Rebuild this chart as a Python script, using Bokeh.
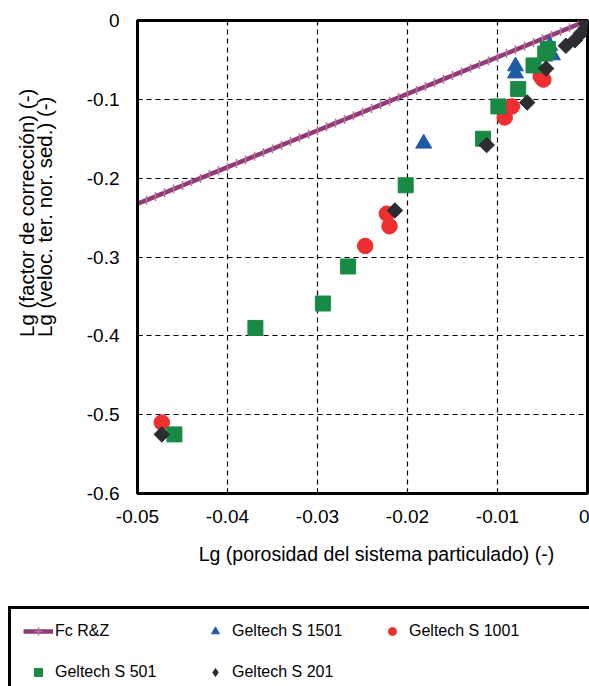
import math
from bokeh.plotting import figure
from bokeh.layouts import column, row
from bokeh.models import FixedTicker, Legend, LegendItem, Label
from bokeh.embed import file_html
from bokeh.resources import INLINE

# ---- data ----
FC_X = [-0.050, -0.049, -0.048, -0.047, -0.046, -0.045, -0.044, -0.043, -0.042, -0.041,
        -0.040, -0.039, -0.038, -0.037, -0.036, -0.035, -0.034, -0.033, -0.032, -0.031,
        -0.030, -0.029, -0.028, -0.027, -0.026, -0.025, -0.024, -0.023, -0.022, -0.021,
        -0.020, -0.019, -0.018, -0.017, -0.016, -0.015, -0.014, -0.013, -0.012, -0.011,
        -0.010, -0.009, -0.008, -0.007, -0.006, -0.005, -0.004, -0.003, -0.002, -0.001, 0.0]
FC_Y = [-0.2325, -0.2279, -0.2232, -0.2186, -0.2139, -0.2093, -0.2046, -0.2000, -0.1953, -0.1907,
        -0.1860, -0.1814, -0.1767, -0.1721, -0.1674, -0.1628, -0.1581, -0.1535, -0.1488, -0.1442,
        -0.1395, -0.1349, -0.1302, -0.1256, -0.1209, -0.1163, -0.1116, -0.1070, -0.1023, -0.0977,
        -0.0930, -0.0884, -0.0837, -0.0791, -0.0744, -0.0698, -0.0651, -0.0605, -0.0558, -0.0512,
        -0.0465, -0.0419, -0.0372, -0.0326, -0.0279, -0.0233, -0.0186, -0.0140, -0.0093, -0.0047, 0.0]

S1501_X = [-0.0182, -0.0080, -0.0080, -0.0042, -0.0039]
S1501_Y = [-0.156, -0.058, -0.067, -0.032, -0.044]

S1001_X = [-0.0473, -0.0247, -0.0223, -0.0220, -0.0092, -0.0084, -0.0052, -0.0049]
S1001_Y = [-0.510, -0.286, -0.245, -0.261, -0.123, -0.109, -0.071, -0.075]

S501_X = [-0.0459, -0.0369, -0.0294, -0.0266, -0.0202, -0.0116, -0.0099, -0.0077, -0.0060, -0.0047, -0.0044]
S501_Y = [-0.525, -0.390, -0.359, -0.312, -0.209, -0.150, -0.109, -0.087, -0.057, -0.042, -0.036]

S201_X = [-0.0473, -0.0214, -0.0112, -0.0067, -0.0046, -0.0024, -0.0014, -0.0007, -0.0002]
S201_Y = [-0.525, -0.241, -0.158, -0.104, -0.061, -0.032, -0.025, -0.016, -0.004]

X_TICKS = [-0.05, -0.04, -0.03, -0.02, -0.01, 0.0]
X_TICK_LABELS = ["-0.05", "-0.04", "-0.03", "-0.02", "-0.01", "0"]
Y_TICKS = [-0.6, -0.5, -0.4, -0.3, -0.2, -0.1, 0.0]
Y_TICK_LABELS = ["-0.6", "-0.5", "-0.4", "-0.3", "-0.2", "-0.1", "0"]

SERIES_NAMES = ["Fc R&Z", "Geltech S 1501", "Geltech S 1001", "Geltech S 501", "Geltech S 201"]
X_LABEL = "Lg (porosidad del sistema particulado) (-)"
Y_LABEL_1 = "Lg (factor de corrección) (-)"
Y_LABEL_2 = "Lg (veloc. ter. nor. sed.) (-)"

FONT = "Liberation Sans"
LINE_COLOR = "#913B75"
TICK_COLOR = "#B7709F"
C_1501 = "#1F5AA6"
C_1001 = "#EE2E2F"
C_501 = "#198A45"
C_201 = "#2B2D30"

# layout sizes (pixels)
W_TOTAL, H_TOTAL = 589, 686
W_YLAB = 60
H_TOP = 535


def bare_figure(w, h, xr, yr):
    f = figure(width=w, height=h, x_range=xr, y_range=yr, output_backend="svg",
               toolbar_location=None, x_axis_location=None, y_axis_location=None,
               min_border=0)
    f.grid.visible = False
    f.outline_line_color = None
    f.background_fill_color = "white"
    f.border_fill_color = "white"
    return f


def add_series(f, legend_proxy=False):
    """Draw every series on figure f; returns the renderers."""
    r_line = f.line(FC_X, FC_Y, line_color=LINE_COLOR, line_width=4.5)
    if legend_proxy:
        r_tick = f.scatter(FC_X, FC_Y, marker="cross", size=12,
                           line_color=TICK_COLOR, line_width=1.5)
    else:
        r_tick = f.scatter(FC_X, FC_Y, marker="dash", angle=math.pi / 2, size=9,
                           line_color=TICK_COLOR, line_width=1.5)
    r_t = f.scatter(S1501_X, S1501_Y, marker="triangle", size=16, fill_color=C_1501, line_color=C_1501)
    r_c = f.scatter(S1001_X, S1001_Y, marker="circle", size=15.5, fill_color=C_1001, line_color=C_1001)
    r_s = f.scatter(S501_X, S501_Y, marker="square", size=15, fill_color=C_501, line_color=C_501)
    if legend_proxy:
        r_d = f.scatter(S201_X, S201_Y, marker="diamond", size=15,
                        fill_color=C_201, line_color=C_201)
    else:
        r_d = f.scatter(S201_X, S201_Y, marker="square", angle=math.pi / 4, size=11,
                        fill_color=C_201, line_color=C_201)
    return r_line, r_tick, r_t, r_c, r_s, r_d


# ---- main plot ----
p = figure(width=W_TOTAL - W_YLAB, height=H_TOP, x_range=(-0.05, 0.0), y_range=(-0.6, 0.0),
           output_backend="svg", toolbar_location=None,
           min_border_left=137 - W_YLAB, min_border_right=2, min_border_top=20,
           min_border_bottom=H_TOP - 493)
p.background_fill_color = "white"
p.border_fill_color = "white"
p.outline_line_color = "black"
p.outline_line_width = 3
p.outline_line_alpha = 1.0

p.xaxis.ticker = FixedTicker(ticks=X_TICKS)
p.yaxis.ticker = FixedTicker(ticks=Y_TICKS)
p.xaxis.major_label_overrides = dict(zip(X_TICKS, X_TICK_LABELS))
p.yaxis.major_label_overrides = dict(zip(Y_TICKS, Y_TICK_LABELS))
for ax in (p.xaxis[0], p.yaxis[0]):
    ax.axis_line_color = "black"
    ax.axis_line_width = 3
    ax.major_tick_in = 5
    ax.major_tick_out = 0
    ax.major_tick_line_color = "black"
    ax.major_tick_line_width = 1
    ax.minor_tick_line_color = None
    ax.major_label_text_font = FONT
    ax.major_label_text_font_size = "19px"
    ax.major_label_text_color = "black"
p.yaxis.major_label_standoff = 18
p.xaxis.major_label_standoff = 16

for g in (p.xgrid[0], p.ygrid[0]):
    g.grid_line_color = "black"
    g.grid_line_dash = "5 4"
    g.grid_line_width = 1.2

add_series(p)

# ---- y-axis title (two lines) ----
ylab = bare_figure(W_YLAB, H_TOP, (0, W_YLAB), (H_TOP, 0))
for xpos, txt in ((26, Y_LABEL_1), (43.5, Y_LABEL_2)):
    ylab.add_layout(Label(x=xpos, y=358, text=txt, angle=math.pi / 2,
                          text_align="left", text_baseline="middle",
                          text_font=FONT, text_font_size="20.5px", text_color="black"))

# ---- x-axis title and legend ----
bot = bare_figure(W_TOTAL, H_TOTAL - H_TOP, (0, W_TOTAL), (H_TOTAL, H_TOP))
bot.add_layout(Label(x=376, y=553, text=X_LABEL, text_align="center", text_baseline="middle",
                     text_font=FONT, text_font_size="19.5px", text_color="black"))

# legend proxies: the same series, drawn far outside this panel's visible range
g_line, g_tick, g_t, g_c, g_s, g_d = add_series(bot, legend_proxy=True)
g_blank = bot.scatter(FC_X[:1], FC_Y[:1], marker="circle", size=1, fill_alpha=0, line_alpha=0)

legend = Legend(items=[
    LegendItem(label=SERIES_NAMES[0], renderers=[g_line, g_tick]),
    LegendItem(label=SERIES_NAMES[1], renderers=[g_t]),
    LegendItem(label=SERIES_NAMES[2], renderers=[g_c]),
    LegendItem(label=" ", renderers=[g_blank]),
    LegendItem(label=SERIES_NAMES[3], renderers=[g_s]),
    LegendItem(label=SERIES_NAMES[4], renderers=[g_d]),
], location=(8, -11), orientation="horizontal", ncols=4,
    border_line_color="black", border_line_width=3, border_line_alpha=1.0,
    background_fill_color="white", background_fill_alpha=1.0,
    padding=12, spacing=21, glyph_width=30, glyph_height=20,
    label_height=20, label_width=124, label_standoff=2,
    label_text_font=FONT, label_text_font_size="16px", label_text_color="black")
bot.add_layout(legend)

layout = column(row(ylab, p), bot)
open("out.html", "w").write(file_html(layout, INLINE))
